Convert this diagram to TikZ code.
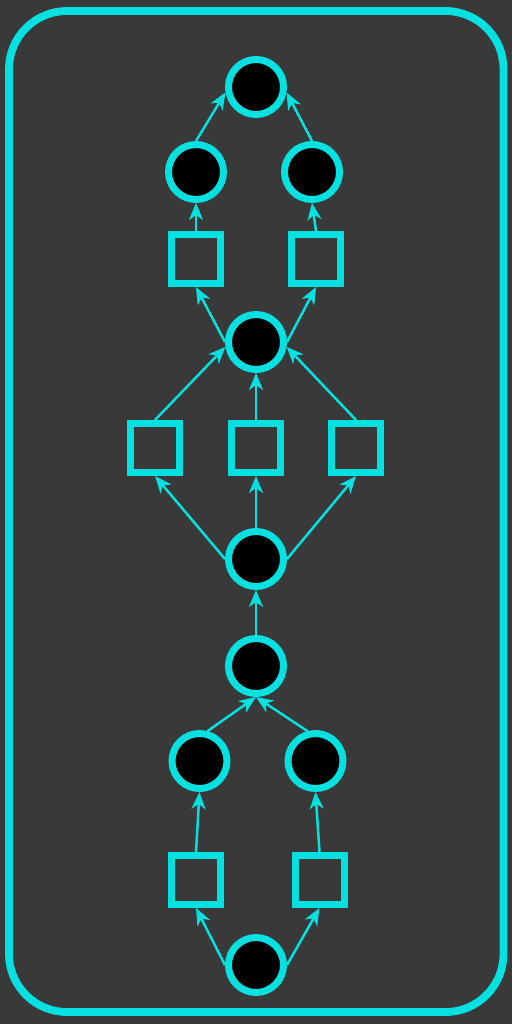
\documentclass[tikz,border=0pt]{standalone}
\usepackage{tikz}
\usetikzlibrary{arrows.meta}
\definecolor{bggray}{RGB}{57,57,57}
\definecolor{netcyan}{RGB}{5,224,224}

\begin{document}
\begin{tikzpicture}[x=0.5pt, y=-0.5pt,
	place/.style={circle, draw=netcyan, fill=black, line width=3.5pt, minimum size=27.5pt, inner sep=0pt},
	trans/.style={rectangle, draw=netcyan, line width=3.5pt, minimum size=24.5pt, inner sep=0pt},
	arc/.style={draw=netcyan, line width=1.25pt, -{Stealth[length=8.5pt, width=7pt, inset=2.5pt]}}]
				% Background and frame
				\fill[bggray] (0,0) rectangle (512,1024);
				\useasboundingbox (0,0) rectangle (512,1024);
				\draw[netcyan, line width=3.9pt, rounded corners=29pt] (9,11) rectangle (503.5,1012);
				% Places
				\node[place] (p1) at (256,87) {};
				\node[place] (p2) at (196,172) {};
				\node[place] (p3) at (312,172) {};
				\node[place] (p4) at (256,342) {};
				\node[place] (p5) at (256,559) {};
				\node[place] (p6) at (256,666) {};
				\node[place] (p7) at (199.5,761) {};
				\node[place] (p8) at (315.5,761) {};
				\node[place] (p9) at (256,965) {};
				% Transitions
				\node[trans] (t1) at (196,259) {};
				\node[trans] (t2) at (316,259) {};
				\node[trans] (t3) at (155,448) {};
				\node[trans] (t4) at (256,448) {};
				\node[trans] (t5) at (356,448) {};
				\node[trans] (t6) at (196,880) {};
				\node[trans] (t7) at (319.5,880) {};
				% Arcs
				\draw[arc] (p2.north) -- (p1.190);
				\draw[arc] (p3.north) -- (p1.350);
				\draw[arc] (t1.north) -- (p2.south);
				\draw[arc] (t2.north) -- (p3.south);
				\draw[arc] (p4.west) -- (t1.south);
				\draw[arc] (p4.east) -- (t2.south);
				\draw[arc] (t3.north) -- (p4.189);
				\draw[arc] (t4.north) -- (p4.south);
				\draw[arc] (t5.north) -- (p4.351);
				\draw[arc] (p5.west) -- (t3.south);
				\draw[arc] (p5.north) -- (t4.south);
				\draw[arc] (p5.east) -- (t5.south);
				\draw[arc] (p6.north) -- (p5.south);
				\draw[arc] (p7.75) -- (p6.south);
				\draw[arc] (p8.105) -- (p6.south);
				\draw[arc] (t6.north) -- (p7.south);
				\draw[arc] (t7.north) -- (p8.south);
				\draw[arc] (p9.west) -- (t6.south);
				\draw[arc] (p9.east) -- (t7.south);
			\end{tikzpicture}
\end{document}
